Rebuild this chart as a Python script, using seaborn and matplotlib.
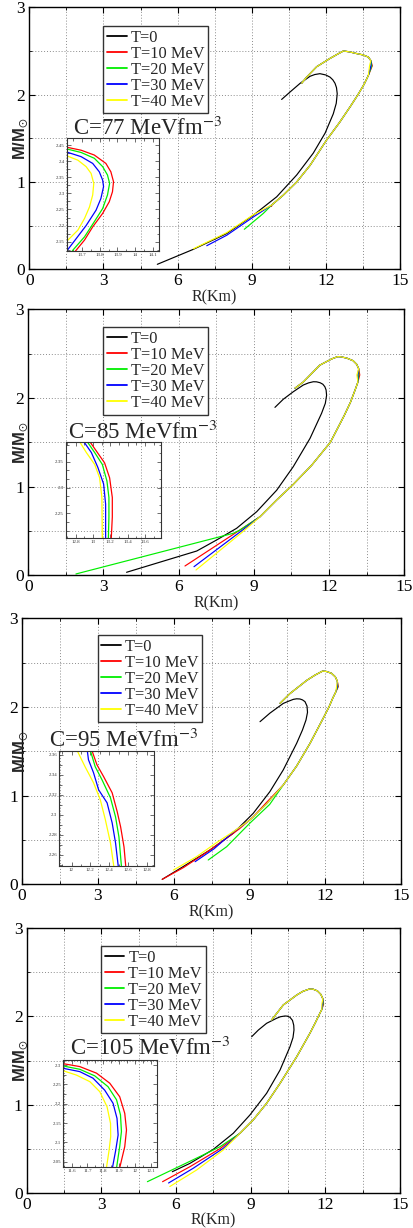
import matplotlib
matplotlib.use("Agg")
import matplotlib.pyplot as plt
import seaborn as sns
from matplotlib.ticker import MultipleLocator, AutoMinorLocator, FuncFormatter

sns.set_style("ticks")
plt.rcParams['font.family'] = ['Liberation Serif', 'DejaVu Serif']
plt.rcParams['mathtext.fontset'] = 'stix'

# ---------------- data ----------------
labels = ["T=0", "T=10 MeV", "T=20 MeV", "T=30 MeV", "T=40 MeV"]
colors = ["#000000", "#ff0000", "#00ee00", "#0000ff", "#ffff00"]
c_values = [77, 85, 95, 105]

# Panel 1 (C=77)
p1_t0_r = [5.18, 6.64, 7.99, 9.07, 10.01, 10.82, 11.49, 11.97, 12.30, 12.42, 12.46, 12.43, 12.37, 12.28, 12.17, 12.00, 11.76, 11.55, 11.36, 10.96, 10.55, 10.21]
p1_t0_m = [0.057, 0.229, 0.41, 0.62, 0.83, 1.08, 1.33, 1.56, 1.78, 1.90, 2.01, 2.08, 2.13, 2.17, 2.20, 2.225, 2.24, 2.23, 2.21, 2.13, 2.03, 1.945]
p1_tail_r = [[9.80], [8.70, 9.47], [7.18, 7.99, 9.07], [6.64, 7.99, 9.07]]
p1_tail_m = [[0.72], [0.458, 0.64], [0.27, 0.39, 0.60], [0.235, 0.42, 0.625]]
p1_mid_r = [9.81, 10.28, 10.82, 11.36, 12.03, 12.55, 12.98, 13.30, 13.55, 13.72]
p1_mid_m = [0.736, 0.85, 1.00, 1.19, 1.48, 1.68, 1.86, 2.00, 2.12, 2.22]
p1_turn_r = [13.878, 13.856, 13.822, 13.767]
p1_turn_m = 2.33
p1_top_r = [13.82, 13.72, 13.50, 13.25, 12.95, 12.71, 12.45, 12.17, 11.63, 11.22, 11.02]
p1_top_m = [2.39, 2.43, 2.455, 2.47, 2.49, 2.50, 2.46, 2.415, 2.32, 2.20, 2.13]
p1_in_r = [[13.60, 13.696, 13.77, 13.835, 13.863, 13.878, 13.872, 13.854, 13.817, 13.761, 13.715, 13.669, 13.655],
           [13.60, 13.696, 13.77, 13.817, 13.844, 13.856, 13.844, 13.817, 13.77, 13.715, 13.65, 13.64],
           [13.60, 13.696, 13.761, 13.798, 13.817, 13.822, 13.807, 13.78, 13.724, 13.669, 13.622, 13.61],
           [13.60, 13.678, 13.724, 13.752, 13.767, 13.761, 13.743, 13.715, 13.678, 13.622, 13.60]]
p1_in_m = [[2.445, 2.434, 2.419, 2.393, 2.367, 2.336, 2.305, 2.274, 2.238, 2.196, 2.155, 2.124, 2.115],
           [2.44, 2.427, 2.409, 2.383, 2.357, 2.331, 2.295, 2.253, 2.212, 2.165, 2.124, 2.115],
           [2.431, 2.414, 2.393, 2.367, 2.341, 2.321, 2.284, 2.248, 2.2, 2.16, 2.126, 2.115],
           [2.42, 2.403, 2.383, 2.362, 2.331, 2.295, 2.258, 2.222, 2.186, 2.155, 2.145]]

# Panel 2 (C=85)
p2_t0_r = [3.92, 6.72, 7.51, 8.31, 9.11, 9.91, 10.57, 11.24, 11.70, 11.85, 11.90, 11.88, 11.83, 11.75, 11.64, 11.50, 11.37, 11.18, 10.97, 10.57, 10.17, 9.84]
p2_t0_m = [0.034, 0.274, 0.398, 0.53, 0.717, 0.96, 1.225, 1.545, 1.827, 1.94, 2.03, 2.09, 2.127, 2.155, 2.172, 2.182, 2.183, 2.17, 2.146, 2.07, 1.985, 1.894]
p2_tail_r = [[6.25, 8.44], [1.90, 8.18, 8.44], [6.61, 8.50], [6.69, 8.55]]
p2_tail_m = [[0.105, 0.51], [0.015, 0.474, 0.51], [0.097, 0.50], [0.06, 0.49]]
p2_mid_r = [9.24, 9.91, 10.55, 11.30, 12.05, 12.60, 12.85, 13.05, 13.15]
p2_mid_m = [0.66, 0.85, 1.02, 1.24, 1.50, 1.80, 1.95, 2.10, 2.18]
p2_turn_r = [13.223, 13.184, 13.146, 13.108]
p2_turn_m = 2.26
p2_top_r = [13.18, 13.10, 12.96, 12.70, 12.45, 12.34, 12.10, 11.63, 10.97, 10.64]
p2_top_m = [2.33, 2.38, 2.42, 2.45, 2.465, 2.466, 2.44, 2.37, 2.18, 2.11]
p2_in_r = [[12.94, 13.039, 13.134, 13.192, 13.223, 13.223, 13.21],
           [12.91, 13.02, 13.108, 13.161, 13.184, 13.184, 13.177],
           [12.87, 12.982, 13.057, 13.123, 13.146, 13.146],
           [12.825, 12.924, 13.02, 13.077, 13.103, 13.108]]
p2_in_m = [[2.395, 2.371, 2.348, 2.319, 2.281, 2.243, 2.198],
           [2.395, 2.368, 2.345, 2.313, 2.281, 2.243, 2.198],
           [2.395, 2.368, 2.339, 2.307, 2.268, 2.198],
           [2.395, 2.368, 2.345, 2.319, 2.281, 2.198]]

# Panel 3 (C=95)
p3_t0_r = [5.55, 6.38, 7.44, 8.36, 9.15, 9.81, 10.34, 10.87, 11.10, 11.24, 11.30, 11.28, 11.20, 11.10, 11.00, 10.87, 10.74, 10.55, 10.34, 9.81, 9.42]
p3_t0_m = [0.056, 0.20, 0.387, 0.575, 0.80, 1.045, 1.29, 1.59, 1.74, 1.853, 1.94, 2.01, 2.06, 2.08, 2.09, 2.092, 2.086, 2.065, 2.04, 1.93, 1.834]
p3_tail_r = [[5.55, 6.40, 7.30, 8.00, 8.60, 9.15, 9.70],
             [7.37, 8.10, 9.02, 9.80],
             [6.85, 7.60, 8.36, 9.02, 9.68],
             [5.99, 6.90, 7.70, 8.36, 9.02, 9.68]]
p3_tail_m = [[0.056, 0.19, 0.36, 0.50, 0.625, 0.76, 0.93],
             [0.274, 0.424, 0.69, 0.90],
             [0.255, 0.40, 0.59, 0.725, 0.906],
             [0.16, 0.31, 0.47, 0.593, 0.725, 0.906]]
p3_mid_r = [10.34, 10.87, 11.40, 11.92, 12.15, 12.30, 12.42]
p3_mid_m = [1.12, 1.334, 1.59, 1.872, 2.00, 2.10, 2.17]
p3_turn_r = [12.52, 12.50, 12.48, 12.45]
p3_turn_m = 2.23
p3_top_r = [12.48, 12.40, 12.25, 12.05, 11.90, 11.60, 11.27, 10.60, 10.21]
p3_top_m = [2.29, 2.34, 2.38, 2.40, 2.405, 2.36, 2.30, 2.15, 2.04]
p3_in_r = [[12.21, 12.27, 12.342, 12.432, 12.486, 12.522, 12.558, 12.578],
           [12.194, 12.252, 12.324, 12.414, 12.468, 12.504, 12.532],
           [12.165, 12.18, 12.234, 12.288, 12.378, 12.432, 12.468, 12.499],
           [12.05, 12.144, 12.234, 12.306, 12.36, 12.414, 12.452]]
p3_in_m = [[2.366, 2.35, 2.338, 2.322, 2.303, 2.288, 2.268, 2.247],
           [2.366, 2.348, 2.335, 2.317, 2.298, 2.278, 2.247],
           [2.366, 2.355, 2.342, 2.325, 2.312, 2.292, 2.272, 2.247],
           [2.366, 2.348, 2.332, 2.315, 2.295, 2.272, 2.247]]

# Panel 4 (C=105)
p4_t0_r = [5.85, 6.56, 7.50, 8.30, 8.97, 9.64, 10.18, 10.58, 10.70, 10.74, 10.73, 10.68, 10.58, 10.48, 10.38, 10.20, 10.04, 9.64, 9.31, 9.04]
p4_t0_m = [0.238, 0.333, 0.492, 0.674, 0.882, 1.128, 1.392, 1.657, 1.76, 1.846, 1.90, 1.955, 1.99, 2.003, 2.005, 1.997, 1.979, 1.922, 1.846, 1.77]
p4_tail_r = [[5.46, 6.56, 7.77], [4.85, 7.23, 7.77], [5.70, 6.69, 7.90], [5.75, 6.83, 7.90]]
p4_tail_m = [[0.125, 0.295, 0.50], [0.125, 0.447, 0.522], [0.11, 0.277, 0.504], [0.07, 0.258, 0.485]]
p4_mid_r = [8.57, 9.10, 9.64, 10.18, 10.85, 11.38, 11.60, 11.78, 11.86]
p4_mid_m = [0.674, 0.825, 1.014, 1.241, 1.543, 1.809, 1.93, 2.036, 2.08]
p4_turn_r = [11.93, 11.91, 11.89, 11.86]
p4_turn_m = 2.14
p4_top_r = [11.90, 11.82, 11.68, 11.50, 11.35, 11.10, 10.85, 10.31, 9.84]
p4_top_m = [2.20, 2.25, 2.29, 2.31, 2.31, 2.285, 2.243, 2.13, 1.96]
p4_in_r = [[11.54, 11.651, 11.757, 11.841, 11.904, 11.936, 11.947, 11.936, 11.904],
           [11.54, 11.651, 11.746, 11.83, 11.884, 11.909, 11.915, 11.904, 11.884],
           [11.54, 11.651, 11.735, 11.809, 11.862, 11.887, 11.894, 11.879, 11.858],
           [11.54, 11.63, 11.715, 11.778, 11.824, 11.846, 11.847, 11.837, 11.82]]
p4_in_m = [[2.304, 2.296, 2.279, 2.253, 2.218, 2.175, 2.132, 2.089, 2.034],
           [2.298, 2.289, 2.272, 2.244, 2.21, 2.171, 2.128, 2.089, 2.034],
           [2.292, 2.283, 2.266, 2.235, 2.201, 2.162, 2.119, 2.08, 2.034],
           [2.286, 2.274, 2.257, 2.231, 2.192, 2.149, 2.115, 2.08, 2.034]]

# ---------------- layout (pixels) ----------------
W, H = 413, 1228
fig = plt.figure(figsize=(W / 100, H / 100), dpi=100)

def px_axes(l, r, t, b):
    return fig.add_axes([l / W, 1 - b / H, (r - l) / W, (b - t) / H])

main_boxes = [(29.3, 400.0, 7.3, 269.3), (28.3, 404.3, 309.3, 575.3),
              (22.0, 401.0, 618.3, 884.3), (26.7, 400.0, 928.3, 1192.7)]
inset_boxes = [(66.7, 159.3, 138.3, 250.7), (66.0, 160.7, 441.7, 537.7),
               (59.3, 154.3, 750.7, 866.0), (63.3, 157.3, 1060.0, 1166.7)]
inset_xlim = [(13.615, 14.135), (12.69, 13.78), (11.87, 12.88), (11.547, 12.142)]
inset_ylim = [(2.122, 2.471), (2.203, 2.389), (2.249, 2.364), (2.037, 2.313)]
inset_xstep = [0.1, 0.2, 0.2, 0.1]
inset_ystep = [0.05, 0.05, 0.02, 0.05]
inset_yminor = [2, 3, 2, 2]
legend_pos = [(103.3, 26.0), (103.3, 327.3), (97.7, 635.0), (101.0, 946.0)]
title_pos = [(72.7, 135.0), (68.3, 439.3), (49.3, 747.3), (70.0, 1055.0)]

panels = [
    (p1_t0_r, p1_t0_m, p1_tail_r, p1_tail_m, p1_mid_r, p1_mid_m, p1_turn_r, p1_turn_m, p1_top_r, p1_top_m, p1_in_r, p1_in_m),
    (p2_t0_r, p2_t0_m, p2_tail_r, p2_tail_m, p2_mid_r, p2_mid_m, p2_turn_r, p2_turn_m, p2_top_r, p2_top_m, p2_in_r, p2_in_m),
    (p3_t0_r, p3_t0_m, p3_tail_r, p3_tail_m, p3_mid_r, p3_mid_m, p3_turn_r, p3_turn_m, p3_top_r, p3_top_m, p3_in_r, p3_in_m),
    (p4_t0_r, p4_t0_m, p4_tail_r, p4_tail_m, p4_mid_r, p4_mid_m, p4_turn_r, p4_turn_m, p4_top_r, p4_top_m, p4_in_r, p4_in_m),
]

gfmt = FuncFormatter(lambda v, p: f"{v:g}")

for i, pdata in enumerate(panels):
    t0_r, t0_m, tail_r, tail_m, mid_r, mid_m, turn_r, turn_m, top_r, top_m, in_r, in_m = pdata
    l, r, t, b = main_boxes[i]
    ax = px_axes(l, r, t, b)

    sns.lineplot(x=t0_r, y=t0_m, sort=False, estimator=None, color=colors[0],
                 lw=0.85, label=labels[0], ax=ax)
    for k in range(4):
        xs = tail_r[k] + mid_r + [turn_r[k]] + top_r
        ys = tail_m[k] + mid_m + [turn_m] + top_m
        sns.lineplot(x=xs, y=ys, sort=False, estimator=None, color=colors[k + 1],
                     lw=0.85, label=labels[k + 1], ax=ax)

    ax.set_xlim(0, 15)
    ax.set_ylim(0, 3)
    ax.xaxis.set_major_locator(MultipleLocator(3))
    ax.xaxis.set_minor_locator(MultipleLocator(1.5))
    ax.yaxis.set_major_locator(MultipleLocator(1))
    ax.yaxis.set_minor_locator(MultipleLocator(0.5))
    ax.grid(which='both', ls=(0, (1, 2)), color='#8c8c8c', lw=0.7)
    ax.set_axisbelow(True)
    ax.tick_params(which='both', direction='in', top=True, right=True,
                   labelsize=12.5, pad=3, colors='black')
    ax.tick_params(which='major', length=4, width=0.8)
    ax.tick_params(which='minor', length=2, width=0.6)
    for s in ax.spines.values():
        s.set_linewidth(1.0)
        s.set_color('black')
    ax.set_xlabel('R(Km)', fontsize=11.5, labelpad=0)
    ax.set_ylabel('')

    lx, ly = legend_pos[i]
    leg = ax.legend(loc='upper left', bbox_to_anchor=(lx / W, 1 - ly / H),
                    bbox_transform=fig.transFigure, borderaxespad=0,
                    fontsize=11.8, handlelength=1.2, handletextpad=0.25,
                    labelspacing=0.0, borderpad=0.22, frameon=True,
                    fancybox=False, framealpha=1)
    leg.get_frame().set_edgecolor('#333333')
    leg.get_frame().set_linewidth(1.0)
    for h in leg.get_lines():
        h.set_linewidth(1.3)

    tx, ty = title_pos[i]
    fig.text(tx / W, 1 - ty / H, f"C={c_values[i]} MeVfm$^{{-3}}$", fontsize=16.5,
             ha='left', va='baseline')
    fig.text(20.5 / W, 1 - ((t + b) / 2) / H, r"M/M$_{\odot}$", rotation=90,
             ha='center', va='center', fontsize=12, fontweight='bold',
             family=['Liberation Sans', 'DejaVu Sans'])

    # inset
    il, ir, it, ib = inset_boxes[i]
    axi = px_axes(il, ir, it, ib)
    axi.set_facecolor('none')
    for k in range(4):
        sns.lineplot(x=in_r[k], y=in_m[k], sort=False, estimator=None,
                     color=colors[k + 1], lw=0.9, ax=axi, legend=False)
    axi.set_xlim(*inset_xlim[i])
    axi.set_ylim(*inset_ylim[i])
    axi.xaxis.set_major_locator(MultipleLocator(inset_xstep[i]))
    axi.xaxis.set_minor_locator(AutoMinorLocator(2))
    axi.yaxis.set_major_locator(MultipleLocator(inset_ystep[i]))
    axi.yaxis.set_minor_locator(AutoMinorLocator(inset_yminor[i]))
    axi.xaxis.set_major_formatter(gfmt)
    axi.yaxis.set_major_formatter(gfmt)
    axi.tick_params(which='both', direction='in', top=True, right=True,
                    labelsize=3.5, pad=1.5, colors='#333333')
    axi.tick_params(which='major', length=3, width=0.5)
    axi.tick_params(which='minor', length=1.8, width=0.5)
    for s in axi.spines.values():
        s.set_linewidth(0.8)
        s.set_color('#333333')
    axi.set_xlabel('')
    axi.set_ylabel('')

fig.savefig("out.png", dpi=100)
